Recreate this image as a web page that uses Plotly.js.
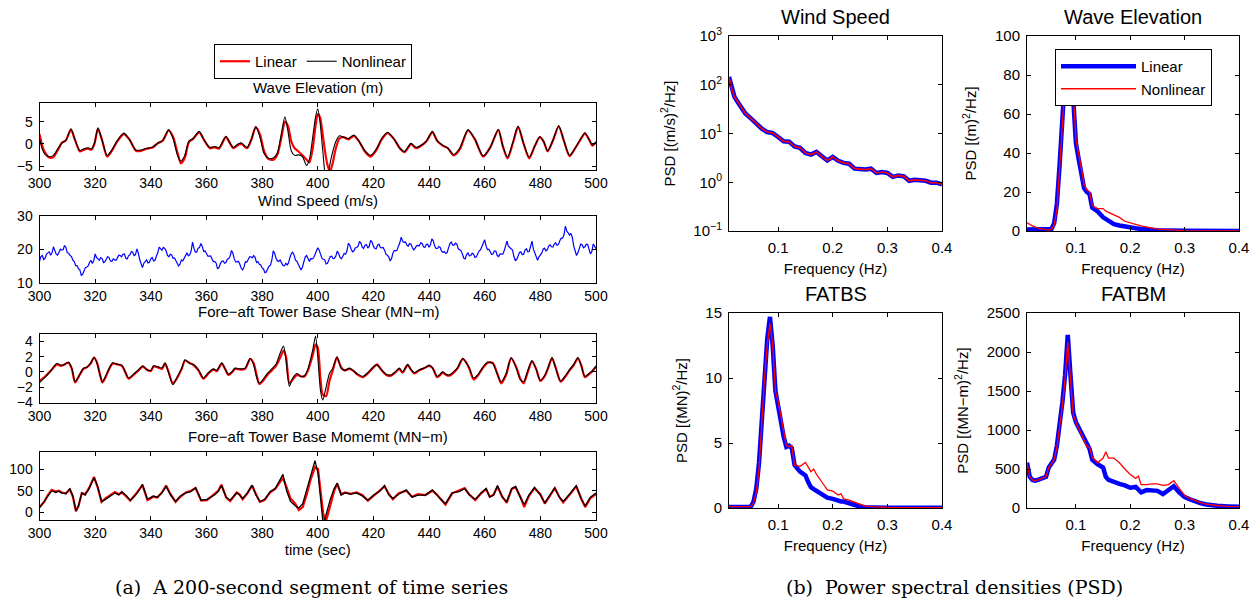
<!DOCTYPE html>
<html><head><meta charset="utf-8">
<script src="https://cdn.plot.ly/plotly-3.0.1.min.js"></script>
<style>html,body{margin:0;padding:0;background:#fff}#chart{width:1257px;height:601px}</style>
</head><body><div id="chart"></div>
<script>
// ---------------- data: time series (a) ----------------
const timeTicks = [300,320,340,360,380,400,420,440,460,480,500];

const waveT = [300,301,302,303.5,305,306.5,308,309.5,311.3,312.7,314.5,316,317.5,318.7,319.8,321,322.5,324.3,326,328,330.3,332.3,334.7,336.5,338.5,340.5,342.5,344.3,346.4,348,349.5,350.8,352.2,353.7,355.2,357.4,359.2,361.2,363,364.5,367,368.5,369.6,371.5,372.6,374.6,376.2,377.7,379.2,380.7,382.2,384,385.5,387,388.2,389.3,390.5,391.7,393.2,394.5,396,397,398.2,399.2,400,400.8,401.8,402.8,403.6,404.4,405.3,406.5,407.8,409.3,411,413,414.8,417,419,421,423,425.1,427.5,429.5,431.2,433.5,435.3,437,439,441.2,443,444.9,446.8,448.8,451,454,456.5,459.4,462,464.9,466.5,468.2,470.2,472,474,476,478,479.8,481.2,482.6,484.5,486.6,488.5,490.5,492.5,494.2,496,497.5,498.7,500];
const waveNonlin = [1.2,-1.2,-2.4,-2.9,-2.6,-1.2,0.2,0.8,3.4,1.0,-1.5,-1.1,-0.9,-1.2,0.3,3.6,0.8,-2.6,-1.4,0.8,2.4,1.0,-1.4,-1.4,-1.0,-0.8,0.2,0.8,3.2,1.2,-2.4,-3.9,-2.6,0.6,1.2,2.8,0.8,-0.8,-0.6,-0.9,1.7,0.1,-0.8,0.0,0.2,-0.8,1.2,3.9,1.6,-2.2,-3.2,-3.2,-2.0,2.6,6.1,2.8,-1.6,-2.6,-2.5,-2.9,-4.9,-3.5,1.5,6.0,7.9,5.0,-1.5,-7.0,-7.5,-4.5,-2.0,0.5,1.8,1.5,1.2,2.0,0.6,-1.6,-2.6,-1.2,1.2,2.6,1.0,-1.0,-1.7,0.1,-0.8,-0.4,0.6,2.8,0.6,-0.3,-1.0,-2.4,-1.0,3.2,1.0,-2.7,-0.8,3.3,-0.5,-3.0,0.5,4.0,0.0,-3.0,-0.5,1.6,0.5,-1.6,0.8,4.1,0.6,-2.6,-1.0,0.8,2.5,1.0,-0.3,0.5];
const waveLin = [2.2,-0.5,-2.0,-3.1,-3.0,-1.5,0.2,0.8,3.2,1.0,-1.7,-1.3,-1.1,-1.3,0.1,3.4,0.8,-2.9,-1.6,0.6,2.2,1.0,-1.6,-1.6,-1.1,-0.9,0.1,0.7,3.0,1.6,-1.8,-4.4,-3.2,0.4,1.1,2.6,0.8,-1.0,-0.8,-1.1,1.5,0.1,-1.0,-0.2,0.0,-1.0,1.0,3.7,2.2,-1.6,-3.4,-3.6,-2.4,1.6,5.0,4.0,0.5,-1.0,-1.8,-2.6,-3.6,-4.2,-1.0,4.0,6.7,6.0,2.0,-2.5,-5.0,-6.3,-4.5,-1.0,1.2,1.5,1.0,1.8,0.6,-1.8,-2.9,-1.5,1.0,2.4,1.0,-1.0,-1.9,-0.1,-1.0,-0.5,0.5,2.6,0.6,-0.4,-1.0,-2.6,-1.3,3.0,1.0,-2.9,-0.8,3.1,-0.5,-3.3,0.3,3.8,0.0,-3.3,-0.5,1.5,0.5,-1.7,0.7,3.9,0.6,-2.8,-1.0,0.7,2.3,1.0,-0.4,0.3];

// wind speed: whole-second samples and the half-second samples in between
const windT = [300,301,302,303,304,305,306,307,308,309,310,311,312,313,314,315,316,317,318,319,320,321,322,323,324,325,326,327,328,329,330,331,332,333,334,335,336,337,338,339,340,341,342,343,344,345,346,347,348,349,350,351,352,353,354,355,356,357,358,359,360,361,362,363,364,365,366,367,368,369,370,371,372,373,374,375,376,377,378,379,380,381,382,383,384,385,386,387,388,389,390,391,392,393,394,395,396,397,398,399,400,401,402,403,404,405,406,407,408,409,410,411,412,413,414,415,416,417,418,419,420,421,422,423,424,425,426,427,428,429,430,431,432,433,434,435,436,437,438,439,440,441,442,443,444,445,446,447,448,449,450,451,452,453,454,455,456,457,458,459,460,461,462,463,464,465,466,467,468,469,470,471,472,473,474,475,476,477,478,479,480,481,482,483,484,485,486,487,488,489,490,491,492,493,494,495,496,497,498,499,500];
const windSpeed = [16.5,18.2,17.4,19.0,18.3,20.8,18.6,19.3,19.8,21.2,19.0,18.2,16.8,15.2,14.3,12.3,13.6,14.8,16.2,15.8,18.7,17.2,17.6,16.1,17.1,17.6,16.4,16.9,17.5,18.2,18.6,17.4,18.1,19.4,18.2,20.2,17.0,14.6,16.5,16.0,17.2,16.6,18.0,20.7,19.8,20.3,18.2,18.6,17.4,16.6,15.1,16.9,17.3,19.0,18.4,22.2,19.2,20.4,21.8,19.4,18.6,18.0,17.2,16.4,14.2,15.8,16.6,16.1,17.3,19.7,17.2,16.3,15.6,13.9,16.4,17.0,17.8,18.2,16.1,15.6,14.5,13.1,14.2,15.3,19.6,17.4,16.5,16.0,15.1,15.4,17.6,19.2,16.8,15.6,13.9,16.6,18.2,16.4,17.2,18.6,20.5,18.4,17.1,15.7,16.9,18.0,17.4,19.5,17.6,18.0,18.6,21.8,20.1,19.6,20.6,22.4,20.7,21.3,20.4,22.7,21.0,20.2,21.6,20.5,19.8,18.3,16.7,18.9,19.6,21.0,23.7,22.1,21.4,21.8,20.6,20.4,21.2,22.0,20.8,21.5,20.7,23.2,21.1,20.3,20.6,19.1,18.8,20.5,22.2,21.3,21.6,19.9,18.6,17.2,19.0,18.2,18.6,17.8,19.6,21.1,22.9,20.0,19.4,18.7,19.5,17.9,18.6,19.6,22.5,20.6,19.8,16.7,18.2,19.3,18.6,20.2,19.4,22.5,19.0,16.8,18.3,20.1,19.6,21.0,20.8,21.6,21.2,22.6,23.4,27.0,25.0,24.8,21.0,18.2,20.6,21.4,20.8,21.5,18.7,21.6,20.2];
const windSpeedHalf = [17.9,17.0,18.6,19.3,19.0,19.9,18.3,20.1,20.0,20.6,18.9,17.9,16.4,15.2,13.9,12.6,14.6,15.1,16.8,16.6,17.6,16.8,17.3,16.3,17.9,16.6,17.2,16.8,18.3,17.8,18.7,17.2,18.4,19.2,18.5,19.0,15.4,15.9,16.9,16.2,17.6,16.8,19.0,20.1,20.6,19.6,17.8,18.4,17.5,16.2,15.6,16.6,18.4,18.1,19.6,20.4,19.2,20.6,20.9,19.6,18.0,18.1,16.4,15.9,14.6,16.5,15.9,17.1,18.0,18.9,16.3,16.5,14.4,14.8,16.2,17.8,17.5,17.6,16.4,15.4,14.2,13.3,15.0,16.8,18.9,16.6,16.9,15.2,15.9,16.0,18.8,18.3,16.5,14.5,14.8,17.8,17.0,17.3,17.5,19.9,19.8,17.4,16.9,15.9,17.9,17.3,18.0,18.8,17.2,18.8,19.6,21.3,19.3,20.5,21.0,21.9,20.3,21.5,21.0,22.2,20.3,21.3,20.6,20.6,18.6,17.8,17.2,19.7,19.8,22.0,22.5,22.3,21.0,21.6,19.9,21.1,21.1,21.8,20.6,21.6,21.4,22.6,20.3,20.9,19.5,19.4,19.1,21.8,21.3,21.9,20.2,19.6,17.4,18.5,18.1,18.9,17.6,19.0,19.9,22.3,21.0,20.1,18.5,19.6,18.2,18.7,18.6,21.4,21.0,20.5,17.9,17.0,19.1,18.5,19.8,19.3,21.3,20.1,17.5,17.8,18.9,20.4,19.9,21.4,20.7,22.0,21.5,23.4,24.4,25.5,24.3,23.6,19.2,19.0,21.6,20.5,21.6,20.0,19.4,21.0];

const shearT = [300,302.6,304.4,306.2,307.7,308.6,310.4,311.6,312.8,314.6,315.8,317,318.4,319.6,320.6,321.8,322.6,323.6,324.8,326.3,328,329.6,330.8,332,333.8,335.6,337.1,338.6,340,341,342.5,344,345.1,346.3,347.9,349.3,351.1,352.3,353.9,355.3,357.1,358.9,360.7,362.5,363.7,365.5,366.7,367.9,369.1,370.3,372.1,373.9,375.7,376.9,378.1,379,380.5,381.9,383.5,385,386.4,387.7,388.6,389.8,391,392.6,394,395.2,396.4,398.2,399.2,400,401,401.8,403,404.2,405.4,406.9,408.4,409.6,411.4,412.6,414.4,416.2,418,419.8,421.3,422.8,424.6,426.3,427.8,429.3,430.5,432.3,433.5,434.7,436.5,438.3,440.1,441.3,442.9,443.7,444.9,446.1,447.3,449.1,450.3,452.1,453.3,454.5,456,457.5,459.3,461.1,462.9,464.7,465.9,467.7,469.5,471.3,472.8,474,475.5,477,478.5,480,481.5,482.7,484.2,485.5,487.3,489,490.5,492,493.5,494.7,496,497.5,499,500];
const shearNonlin = [-1.4,-0.5,0.3,1.1,0.9,0.9,1.3,0.5,-1.3,-0.2,0.5,0.6,1.2,1.9,1.2,-0.5,-1.3,-0.7,0.3,1.2,1.0,0.9,0.0,-0.8,-0.3,0.3,0.8,0.3,0.2,0.8,0.7,0.5,1.2,0.0,-1.7,-0.8,0.5,1.6,1.1,1.0,0.3,-0.8,-0.1,0.4,0.2,1.2,0.4,-0.3,0.0,0.5,0.4,0.5,1.8,1.0,-0.8,-1.5,-0.9,-0.2,0.4,1.0,2.4,3.4,1.5,-1.9,-0.8,-0.2,-0.6,-0.5,0.3,2.9,4.7,2.0,-2.5,-3.7,-2.0,-0.2,0.5,2.0,0.5,0.2,0.5,0.2,-0.3,-0.6,-0.1,0.6,0.9,0.3,-0.3,-0.4,0.0,0.5,0.0,1.0,0.3,-0.1,0.3,0.5,0.9,0.5,-0.6,-0.4,0.0,-0.3,-0.4,0.1,0.6,1.8,1.2,0.5,-0.8,-0.4,0.6,1.3,1.1,-0.5,-1.3,-0.2,1.9,0.5,-1.0,-1.3,0.2,1.5,0.3,-1.1,-0.5,0.5,1.9,0.5,-1.2,-0.5,0.3,1.0,1.9,0.8,-0.6,-0.2,0.3,0.8];
const shearLin = [-1.2,-0.4,0.3,1.0,0.8,0.9,1.2,0.4,-1.4,-0.3,0.4,0.6,1.1,1.9,1.3,-0.4,-1.4,-0.8,0.2,1.1,1.0,0.8,0.0,-0.9,-0.4,0.2,0.7,0.3,0.1,0.7,0.6,0.4,1.1,0.1,-1.5,-0.9,0.4,1.5,1.2,0.9,0.2,-0.9,-0.2,0.3,0.1,1.1,0.4,-0.4,-0.1,0.4,0.3,0.4,1.7,1.2,-0.5,-1.6,-1.1,-0.4,0.2,0.8,1.8,2.8,2.0,-1.5,-1.0,-0.4,-0.6,-0.6,0.1,2.2,3.6,3.2,-1.0,-3.0,-3.2,-1.2,0.2,1.9,0.6,0.2,0.4,0.2,-0.4,-0.7,-0.2,0.5,1.0,0.3,-0.4,-0.5,-0.1,0.4,-0.1,0.9,0.3,-0.2,0.2,0.5,0.8,0.5,-0.7,-0.5,-0.1,-0.4,-0.5,0.0,0.5,1.7,1.3,0.4,-1.0,-0.5,0.5,1.2,1.2,-0.4,-1.5,-0.4,1.8,0.7,-0.9,-1.5,0.0,1.4,0.4,-1.2,-0.6,0.4,1.8,0.6,-1.3,-0.6,0.2,0.9,1.8,0.9,-0.7,-0.3,0.2,0.7];

const momentT = [300,301.7,303,304.4,305.8,307,307.9,309.5,310.9,312,313.1,314,315.2,316.4,317.8,319.6,320.9,322.3,323.7,325,325.8,327.1,328.5,329.6,331.3,332.6,334.3,335.7,337,338.8,340.9,342.3,344,345.5,347.1,348.9,350.6,352.6,354.4,356.1,358.1,360.2,362.9,364.2,365.4,367.1,368.5,370.9,371.9,373,374.7,376.4,377.8,379.2,380.9,382.9,384.7,386.3,387.5,388.8,390.2,391.9,393.2,394.6,396,397.4,399,400.1,401.2,401.9,402.6,403.2,404.5,405.9,407,408.4,409.8,411.8,413.9,416,418,420.1,422.2,424,425.6,427,429.1,431.8,433.9,436,438.7,441.2,442.8,444.2,445.9,448.3,450.8,452.8,454.5,456.6,458.7,460.5,461.8,463.2,464.6,466.3,467.9,469.7,471.1,473.1,474.2,475.9,477.9,480,481.6,483.4,485.2,486.8,488.2,490.2,492.9,494.7,496.1,498,500];
const momentNonlin = [10,25,38,50,46,49,45,43,55,38,3,15,45,40,55,80,60,25,30,36,38,45,40,48,38,28,38,50,65,30,38,35,45,60,40,25,38,45,48,57,28,30,40,48,62,35,28,45,40,32,45,63,40,25,30,48,55,72,88,50,25,15,10,20,50,85,120,90,20,-25,-15,0,30,55,68,40,45,42,45,38,28,40,48,62,40,32,42,52,35,40,40,52,40,30,20,45,48,55,40,30,45,55,35,40,62,35,25,55,60,30,18,40,58,40,22,40,57,35,25,40,62,30,15,35,45];
const momentLin = [12,24,40,52,48,50,46,44,53,36,2,14,44,42,56,82,58,24,32,38,40,47,42,46,36,27,40,52,63,28,36,34,46,62,42,24,36,46,50,56,27,28,42,50,64,34,26,46,42,30,44,62,42,24,28,46,54,68,80,58,32,20,5,12,40,75,105,100,45,0,-20,-15,15,50,66,42,46,43,46,40,27,38,50,60,42,30,44,50,36,42,40,50,41,30,18,44,50,56,41,28,44,54,36,41,60,36,22,54,58,32,12,38,56,42,20,38,56,36,23,38,60,32,12,33,42];

// ---------------- data: power spectral densities (b) ----------------
const freqTicks = [0.1,0.2,0.3,0.4];
const logTickVals = [0.1,1,10,100,1000];
const logTickText = ['10<sup>−1</sup>','10<sup>0</sup>','10<sup>1</sup>','10<sup>2</sup>','10<sup>3</sup>'];

const windF = [0.01,0.015,0.02,0.025,0.03,0.035,0.04,0.05,0.06,0.07,0.08,0.09,0.1,0.11,0.12,0.13,0.14,0.15,0.16,0.17,0.18,0.19,0.2,0.21,0.22,0.23,0.24,0.25,0.26,0.27,0.28,0.29,0.3,0.31,0.32,0.33,0.34,0.35,0.36,0.37,0.38,0.39,0.4];
const windPsdLin = [144.5,83.2,56.2,45.7,38.0,31.6,25.7,20.4,15.8,12.6,10.7,10.2,8.5,6.9,6.8,5.4,5.1,4.0,3.7,4.2,3.4,2.8,3.3,2.75,2.5,2.4,1.9,1.86,1.82,1.9,1.55,1.62,1.55,1.29,1.38,1.32,1.07,1.12,1.1,1.07,0.98,0.98,0.91];
const windPsdNonlin = [144.5,83.2,56.2,45.7,38.0,31.6,25.7,20.4,15.8,12.6,10.7,10.2,8.5,6.9,6.8,5.4,5.1,4.0,3.7,4.2,3.4,2.8,3.3,2.75,2.5,2.4,1.9,1.86,1.82,1.9,1.55,1.62,1.55,1.29,1.38,1.32,1.07,1.12,1.1,1.07,0.98,0.98,0.91];

const waveF = [0.01,0.02,0.03,0.04,0.05,0.055,0.06,0.065,0.07,0.075,0.08,0.085,0.09,0.095,0.1,0.105,0.11,0.115,0.12,0.125,0.13,0.14,0.15,0.155,0.16,0.165,0.17,0.18,0.19,0.2,0.21,0.22,0.23,0.25,0.3,0.35,0.4];
const wavePsdLin = [0.8,0.8,0.8,0.8,0.6,1,4,14,34,58,80,90,88,68,45,37,29,22,20,19,12,10,7,6,5,4.2,3.5,2.8,2.2,1.8,1.4,1,0.8,0.4,0.1,0.05,0.05];
const wavePsdNonlin = [4.2,2.6,1.5,0.8,0.5,0.8,3,11,30,54,78,90,88,72,47,40,32,24,21,20,13,11.5,11.5,10.2,9.5,9.2,8.3,7,5,4,3.4,2.6,2,1,0.2,0.1,0.1];

const shearF = [0.01,0.03,0.05,0.055,0.06,0.065,0.07,0.075,0.08,0.085,0.09,0.095,0.1,0.105,0.11,0.115,0.12,0.125,0.13,0.14,0.15,0.155,0.16,0.165,0.17,0.18,0.19,0.2,0.21,0.215,0.22,0.23,0.24,0.25,0.26,0.27,0.3,0.35,0.4];
const shearPsdLin = [0.08,0.08,0.1,0.5,1.5,3.5,7,10.5,13,14.7,12.5,9,7.8,7,5.5,4.7,4.8,4.6,3.3,2.8,2.5,2.0,1.6,1.45,1.3,1.0,0.8,0.7,0.55,0.5,0.5,0.35,0.25,0.1,0.05,0.03,0.02,0.01,0.01];
const shearPsdNonlin = [0.1,0.1,0.1,0.4,1.2,3,6.5,10,12.5,14.2,12.5,9,8.2,7,6,4.8,4.7,4.8,3.3,3.2,3.5,3.2,2.8,3.0,2.6,2.0,1.4,1.3,1.0,1.1,0.7,0.6,0.45,0.3,0.15,0.1,0.05,0.03,0.03];

const momentF = [0.01,0.015,0.02,0.025,0.03,0.04,0.045,0.05,0.055,0.06,0.065,0.07,0.075,0.08,0.085,0.09,0.095,0.1,0.11,0.12,0.125,0.13,0.14,0.15,0.155,0.16,0.17,0.18,0.19,0.2,0.21,0.215,0.22,0.23,0.24,0.25,0.26,0.27,0.28,0.29,0.3,0.31,0.32,0.33,0.34,0.35,0.36,0.38,0.4];
const momentPsdLin = [580,400,360,350,360,390,400,520,570,620,800,1050,1350,1700,2220,1700,1220,1100,960,800,760,620,560,520,400,360,330,310,290,260,270,230,200,230,230,220,180,230,280,200,140,110,80,60,45,35,28,20,15];
const momentPsdNonlin = [580,400,360,350,360,390,400,520,570,620,780,1020,1300,1650,2130,1650,1200,1100,950,790,780,650,580,640,720,640,640,580,500,430,380,410,300,300,310,310,290,300,350,250,160,120,90,70,50,40,32,22,18];

// ---------------- helpers ----------------
const W = 1257, H = 601;
const F = 'Liberation Sans, Arial, Helvetica, sans-serif';
const FS = 'DejaVu Serif, Liberation Serif, serif';
const dx = (a, b) => [a / W, b / W];
const dy = (top, bottom) => [1 - bottom / H, 1 - top / H];

// interleave whole-second and half-second wind samples
const windX = [], windY = [];
windT.forEach((t, i) => {
  windX.push(t); windY.push(windSpeed[i]);
  if (i < windSpeedHalf.length) { windX.push(t + 0.5); windY.push(windSpeedHalf[i]); }
});

function axis(domain, range, anchor, extra) {
  return Object.assign({
    domain: domain, range: range, anchor: anchor,
    showline: true, mirror: 'ticks', linecolor: '#000', linewidth: 1,
    ticks: 'inside', ticklen: 4, tickcolor: '#000', tickwidth: 1,
    showgrid: false, zeroline: false, automargin: false, fixedrange: true,
    ticklabelstandoff: 3,
    tickfont: {family: F, size: 15, color: '#000'}
  }, extra || {});
}

const LX = dx(39.5, 596);
const RX1 = dx(729, 942), RX2 = dx(1027, 1239);
const RY1 = dy(36, 231), RY2 = dy(313, 508);
const leftFont = {family: F, size: 14, color: '#000'};

const sp = (c, w) => ({shape: 'spline', smoothing: 0.7, color: c, width: w});

const traces = [
  {x: waveT, y: waveLin, xaxis: 'x', yaxis: 'y', mode: 'lines', name: 'Linear', legend: 'legend', line: sp('#ff0000', 2.2)},
  {x: waveT, y: waveNonlin, xaxis: 'x', yaxis: 'y', mode: 'lines', name: 'Nonlinear', legend: 'legend', line: sp('#000000', 1.1)},
  {x: windX, y: windY, xaxis: 'x2', yaxis: 'y2', mode: 'lines', showlegend: false, line: {color: '#0000ff', width: 1.2}},
  {x: shearT, y: shearLin, xaxis: 'x3', yaxis: 'y3', mode: 'lines', showlegend: false, line: sp('#ff0000', 2.2)},
  {x: shearT, y: shearNonlin, xaxis: 'x3', yaxis: 'y3', mode: 'lines', showlegend: false, line: sp('#000000', 1.1)},
  {x: momentT, y: momentLin, xaxis: 'x4', yaxis: 'y4', mode: 'lines', showlegend: false, line: {color: '#ff0000', width: 2.2}},
  {x: momentT, y: momentNonlin, xaxis: 'x4', yaxis: 'y4', mode: 'lines', showlegend: false, line: {color: '#000000', width: 1.3}},

  {x: windF, y: windPsdLin, xaxis: 'x5', yaxis: 'y5', mode: 'lines', showlegend: false, line: {color: '#0000ff', width: 4.5}},
  {x: windF, y: windPsdNonlin, xaxis: 'x5', yaxis: 'y5', mode: 'lines', showlegend: false, line: {color: '#ff0000', width: 1.6}},
  {x: waveF, y: wavePsdLin, xaxis: 'x6', yaxis: 'y6', mode: 'lines', name: 'Linear', legend: 'legend2', line: {color: '#0000ff', width: 4.5}},
  {x: waveF, y: wavePsdNonlin, xaxis: 'x6', yaxis: 'y6', mode: 'lines', name: 'Nonlinear', legend: 'legend2', line: {color: '#ff0000', width: 1.3}},
  {x: shearF, y: shearPsdLin, xaxis: 'x7', yaxis: 'y7', mode: 'lines', showlegend: false, line: {color: '#0000ff', width: 4.5}},
  {x: shearF, y: shearPsdNonlin, xaxis: 'x7', yaxis: 'y7', mode: 'lines', showlegend: false, line: {color: '#ff0000', width: 1.3}},
  {x: momentF, y: momentPsdLin, xaxis: 'x8', yaxis: 'y8', mode: 'lines', showlegend: false, line: {color: '#0000ff', width: 4.5}},
  {x: momentF, y: momentPsdNonlin, xaxis: 'x8', yaxis: 'y8', mode: 'lines', showlegend: false, line: {color: '#ff0000', width: 1.3}}
];

const tx = {tickvals: timeTicks, ticklabelstandoff: 0, tickfont: leftFont};
const ly = (vals) => ({tickvals: vals, tickfont: leftFont});
const fx = {tickvals: freqTicks};
const psdTitle = (t) => ({text: t, font: {family: F, size: 15, color: '#000'}, standoff: 14});
const freqTitle = {text: 'Frequency (Hz)', font: {family: F, size: 15, color: '#000'}, standoff: 8};

const ann = (text, x, y, size, fam) => ({text: text, x: x / W, y: 1 - y / H, xref: 'paper', yref: 'paper',
  showarrow: false, xanchor: 'center', yanchor: 'middle', font: {family: fam || F, size: size, color: '#000'}});

const layout = {
  width: W, height: H, margin: {l: 0, r: 0, t: 0, b: 0},
  paper_bgcolor: '#fff', plot_bgcolor: '#fff',
  font: {family: F, size: 15, color: '#000'},
  xaxis: axis(LX, [300, 500], 'y', tx),
  yaxis: axis(dy(103, 170), [-5.9, 9.2], 'x', ly([-5, 0, 5])),
  xaxis2: axis(LX, [300, 500], 'y2', tx),
  yaxis2: axis(dy(216, 283), [10, 30], 'x2', ly([10, 20, 30])),
  xaxis3: axis(LX, [300, 500], 'y3', tx),
  yaxis3: axis(dy(334, 403), [-4.1, 5.0], 'x3', ly([-4, -2, 0, 2, 4])),
  xaxis4: axis(LX, [300, 500], 'y4', Object.assign({title: {text: 'time (sec)', font: {family: F, size: 15, color: '#000'}, standoff: 3}}, tx)),
  yaxis4: axis(dy(452, 520), [-18, 140], 'x4', ly([0, 50, 100])),

  xaxis5: axis(RX1, [0.01, 0.4], 'y5', Object.assign({title: freqTitle}, fx)),
  yaxis5: axis(RY1, [-1, 3], 'x5', {type: 'log', tickvals: logTickVals, ticktext: logTickText, title: psdTitle('PSD [(m/s)<sup>2</sup>/Hz]')}),
  xaxis6: axis(RX2, [0.01, 0.4], 'y6', Object.assign({title: freqTitle}, fx)),
  yaxis6: axis(RY1, [0, 100], 'x6', {tickvals: [0, 20, 40, 60, 80, 100], title: psdTitle('PSD [(m)<sup>2</sup>/Hz]')}),
  xaxis7: axis(RX1, [0.01, 0.4], 'y7', Object.assign({title: freqTitle}, fx)),
  yaxis7: axis(RY2, [0, 15], 'x7', {tickvals: [0, 5, 10, 15], title: psdTitle('PSD [(MN)<sup>2</sup>/Hz]')}),
  xaxis8: axis(RX2, [0.01, 0.4], 'y8', Object.assign({title: freqTitle}, fx)),
  yaxis8: axis(RY2, [0, 2500], 'x8', {tickvals: [0, 500, 1000, 1500, 2000, 2500], title: psdTitle('PSD [(MN−m)<sup>2</sup>/Hz]')}),

  showlegend: true,
  legend: {x: 313 / W, xanchor: 'center', y: 1 - 44 / H, yanchor: 'top', orientation: 'h',
    bgcolor: '#fff', bordercolor: '#000', borderwidth: 1, font: {family: F, size: 15, color: '#000'}},
  legend2: {x: 1055 / W, xanchor: 'left', y: 1 - 49 / H, yanchor: 'top', orientation: 'v', itemwidth: 75,
    bgcolor: '#fff', bordercolor: '#000', borderwidth: 1, font: {family: F, size: 15, color: '#000'}},

  annotations: [
    ann('Wave Elevation (m)', 318, 88, 15),
    ann('Wind Speed (m/s)', 318, 201, 15),
    ann('Fore−aft Tower Base Shear (MN−m)', 318, 311, 15),
    ann('Fore−aft Tower Base Momemt (MN−m)', 318, 436, 15),
    ann('Wind Speed', 835.5, 17, 20),
    ann('Wave Elevation', 1133, 17, 20),
    ann('FATBS', 835.5, 294, 20),
    ann('FATBM', 1133, 294, 20),
    ann('(a)  A 200-second segment of time series', 311, 587, 19, FS),
    ann('(b)  Power spectral densities (PSD)', 954, 587, 19, FS)
  ]
};

Plotly.newPlot('chart', traces, layout, {staticPlot: true, displayModeBar: false});
</script></body></html>
